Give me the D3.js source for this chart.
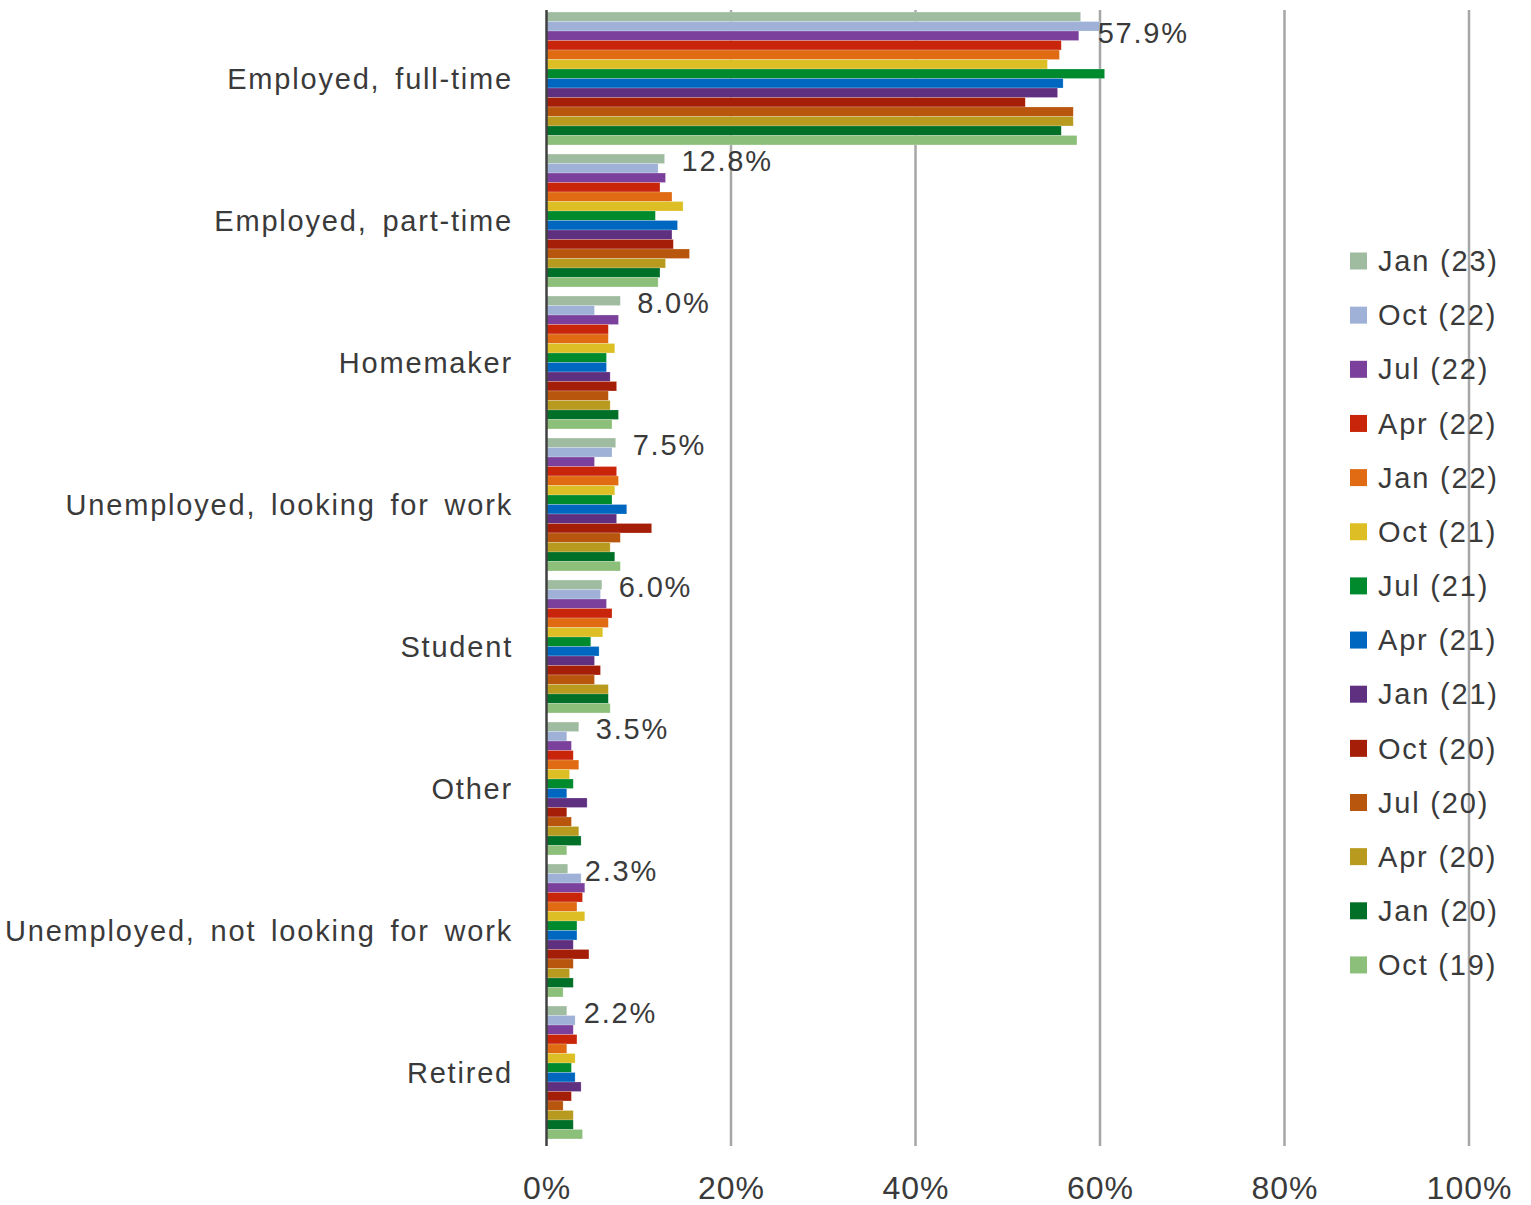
<!DOCTYPE html>
<html>
<head>
<meta charset="utf-8">
<script src="https://cdn.jsdelivr.net/npm/d3@7"></script>
<style>
  html, body { margin: 0; padding: 0; background: #fff; }
  svg text { font-family: "Liberation Sans", Arial, sans-serif; fill: #3a3a3a; }
</style>
</head>
<body>
<svg id="chart" width="1531" height="1205"></svg>
<script>
const categories = [
  "Employed, full-time",
  "Employed, part-time",
  "Homemaker",
  "Unemployed, looking for work",
  "Student",
  "Other",
  "Unemployed, not looking for work",
  "Retired"
];
const seriesNames = ["Jan (23)","Oct (22)","Jul (22)","Apr (22)","Jan (22)","Oct (21)","Jul (21)","Apr (21)","Jan (21)","Oct (20)","Jul (20)","Apr (20)","Jan (20)","Oct (19)"];
const seriesColors = ["#9fbca0","#a0b1d8","#7b3f9c","#c8250a","#e06b12","#ddbf25","#008a2e","#0067c0","#603080","#a51e08","#b8560e","#b89a1e","#006f28","#8cbf7a"];
// values per series, in category order
const jan23 = [57.9, 12.8, 8.0, 7.5, 6.0, 3.5, 2.3, 2.2];
const oct22 = [60.0, 12.1, 5.2, 7.1, 5.85, 2.2, 3.75, 3.1];
const jul22 = [57.7, 12.9, 7.8, 5.2, 6.5, 2.7, 4.15, 2.9];
const apr22 = [55.8, 12.3, 6.7, 7.6, 7.1, 2.9, 3.9, 3.3];
const jan22 = [55.6, 13.6, 6.7, 7.8, 6.7, 3.5, 3.3, 2.2];
const oct21 = [54.3, 14.8, 7.4, 7.4, 6.1, 2.5, 4.15, 3.1];
const jul21 = [60.5, 11.8, 6.5, 7.1, 4.8, 2.9, 3.3, 2.7];
const apr21 = [56.0, 14.2, 6.5, 8.7, 5.7, 2.2, 3.3, 3.1];
const jan21 = [55.4, 13.6, 6.9, 7.6, 5.2, 4.4, 2.9, 3.75];
const oct20 = [51.9, 13.75, 7.6, 11.4, 5.85, 2.2, 4.6, 2.7];
const jul20 = [57.1, 15.5, 6.7, 8.0, 5.2, 2.7, 2.9, 1.8];
const apr20 = [57.1, 12.9, 6.9, 6.9, 6.7, 3.5, 2.5, 2.9];
const jan20 = [55.8, 12.3, 7.8, 7.4, 6.7, 3.75, 2.9, 2.9];
const oct19 = [57.5, 12.1, 7.1, 8.0, 6.9, 2.2, 1.8, 3.9];
const seriesValues = [jan23, oct22, jul22, apr22, jan22, oct21, jul21, apr21, jan21, oct20, jul20, apr20, jan20, oct19];
const xTicks = [0, 20, 40, 60, 80, 100];

const svg = d3.select("#chart");
const FS = 29, LS = 1.8;

const x = d3.scaleLinear().domain([0, 100]).range([546.5, 1469]);
const y0 = d3.scaleBand().domain(categories).range([7.5, 1143.5]).paddingInner(0.064).paddingOuter(0.032);
const y1 = d3.scaleBand().domain(seriesNames).range([0, y0.bandwidth()]);
const color = d3.scaleOrdinal().domain(seriesNames).range(seriesColors);

const plotTop = 10, plotBottom = 1140;

// gridlines
const grid = svg.append("g");
grid.selectAll("line").data(xTicks.filter(t => t > 0)).join("line")
  .attr("x1", d => x(d)).attr("x2", d => x(d))
  .attr("y1", plotTop).attr("y2", plotBottom + 6)
  .attr("stroke", "#a6a6a6").attr("stroke-width", 2.5);

// bars
const groups = svg.append("g").selectAll("g").data(categories).join("g")
  .attr("transform", c => `translate(0,${y0(c)})`);
groups.selectAll("rect").data((c, ci) => seriesNames.map((s, si) => ({s, v: seriesValues[si][ci]})))
  .join("rect")
  .attr("x", x(0))
  .attr("y", d => y1(d.s))
  .attr("width", d => x(d.v) - x(0))
  .attr("height", y1.bandwidth())
  .attr("fill", d => color(d.s))
  .attr("stroke", "rgba(255,255,255,0.35)").attr("stroke-width", 0.6);

// left axis line
svg.append("line").attr("x1", x(0)).attr("x2", x(0)).attr("y1", plotTop).attr("y2", plotBottom + 6)
  .attr("stroke", "#404040").attr("stroke-width", 2.5);

// x axis labels
const xAxis = d3.axisBottom(x).tickValues(xTicks).tickFormat(d => d + "%").tickSize(0).tickPadding(0);
const xg = svg.append("g").attr("transform", `translate(0,1199)`).call(xAxis);
xg.select(".domain").remove();
xg.selectAll("text").attr("dy", 0).attr("font-size", 32).attr("letter-spacing", 1)
  .style("font-family", '"Liberation Sans", Arial, sans-serif')
  .attr("fill", "#3a3a3a");

// category labels
svg.append("g").selectAll("text").data(categories).join("text")
  .attr("x", 513).attr("y", c => y0(c) + y0.bandwidth() / 2)
  .attr("dy", "0.35em").attr("text-anchor", "end")
  .attr("font-size", FS).attr("letter-spacing", LS).attr("word-spacing", 5)
  .text(c => c);

// data labels on Jan (23)
svg.append("g").selectAll("text").data(categories).join("text")
  .attr("x", (c, i) => x(jan23[i]) + 17)
  .attr("y", (c, i) => {
    const yc = y0(c) + y1(seriesNames[0]) + y1.bandwidth() / 2 + 2;
    // push label down when the next bar would run into it
    const collide = x(oct22[i]) > x(jan23[i]) + 17;
    return collide ? yc + 1.5 * y1.step() : yc;
  })
  .attr("dy", "0.35em")
  .attr("font-size", FS).attr("letter-spacing", LS)
  .text((c, i) => jan23[i].toFixed(1) + "%");

// legend
const legend = svg.append("g").selectAll("g").data(seriesNames).join("g")
  .attr("transform", (s, i) => `translate(1350,${261 + i * 54.15})`);
legend.append("rect").attr("x", 0).attr("y", -8.5).attr("width", 17).attr("height", 17).attr("fill", s => color(s));
legend.append("text").attr("x", 28).attr("y", 0).attr("dy", "0.35em")
  .attr("font-size", FS).attr("letter-spacing", LS).text(s => s);
</script>
</body>
</html>
